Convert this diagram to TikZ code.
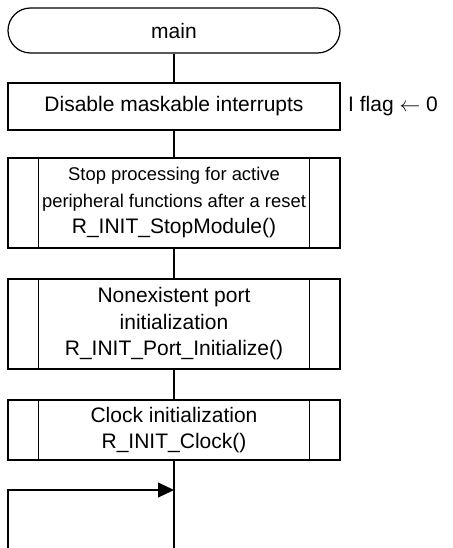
\documentclass[tikz,border=0pt]{standalone}
\usepackage{fontspec}
\setmainfont{Liberation Sans}
\usetikzlibrary{arrows.meta}
\tikzset{
  base/.style={draw, line width=1.2pt, minimum width=332pt, inner sep=0pt, align=center,
    font=\fontsize{21}{26.5}\selectfont},
  term/.style={base, minimum height=45pt, rounded corners=22.5pt},
  procbox/.style={base},
  conn/.style={line width=1.2pt},
  arr/.style={conn, -{Triangle[length=16pt,width=15pt]}}
}
\newcommand{\predef}[1]{\draw[conn] ([xshift=31pt]#1.north west) -- ([xshift=31pt]#1.south west);
  \draw[conn] ([xshift=-31pt]#1.north east) -- ([xshift=-31pt]#1.south east);}
\newcommand{\smallfs}{\fontsize{18.4}{22}\selectfont}
\newcommand{\bigfs}{\fontsize{21}{25}\selectfont}
\begin{document}
\begin{tikzpicture}[x=1pt,y=-1pt]
\useasboundingbox (0,0) rectangle (452,548);
\node[term] (main) at (174,30.5) {main};
\node[procbox, minimum height=47pt] (dis) at (174,106.5) {Disable maskable interrupts};
\node[font=\fontsize{21}{26}\selectfont, anchor=west, inner sep=0pt] (flag) at (348,106.5) {I flag $\leftarrow$ 0};
\node[procbox, minimum height=90pt] (stop) at (174,203)
  {\smallfs Stop processing for active\\\smallfs peripheral functions after a reset\\\bigfs R\_INIT\_StopModule()};
\node[procbox, minimum height=90pt] (port) at (174,324)
  {Nonexistent port\\initialization\\R\_INIT\_Port\_Initialize()};
\node[procbox, minimum height=60pt] (clk) at (174,430)
  {Clock initialization\\R\_INIT\_Clock()};
\predef{stop}
\predef{port}
\predef{clk}
\coordinate (bot) at (174,548);
\coordinate (lb) at (8,548);
\coordinate (lt) at (8,490);
\coordinate (join) at (174,490);
\draw[conn] (main) -- (dis);
\draw[conn] (dis) -- (stop);
\draw[conn] (stop) -- (port);
\draw[conn] (port) -- (clk);
\draw[conn] (clk) -- (bot);
\draw[arr] (lb) -- (lt) -- (join);
\end{tikzpicture}
\end{document}
